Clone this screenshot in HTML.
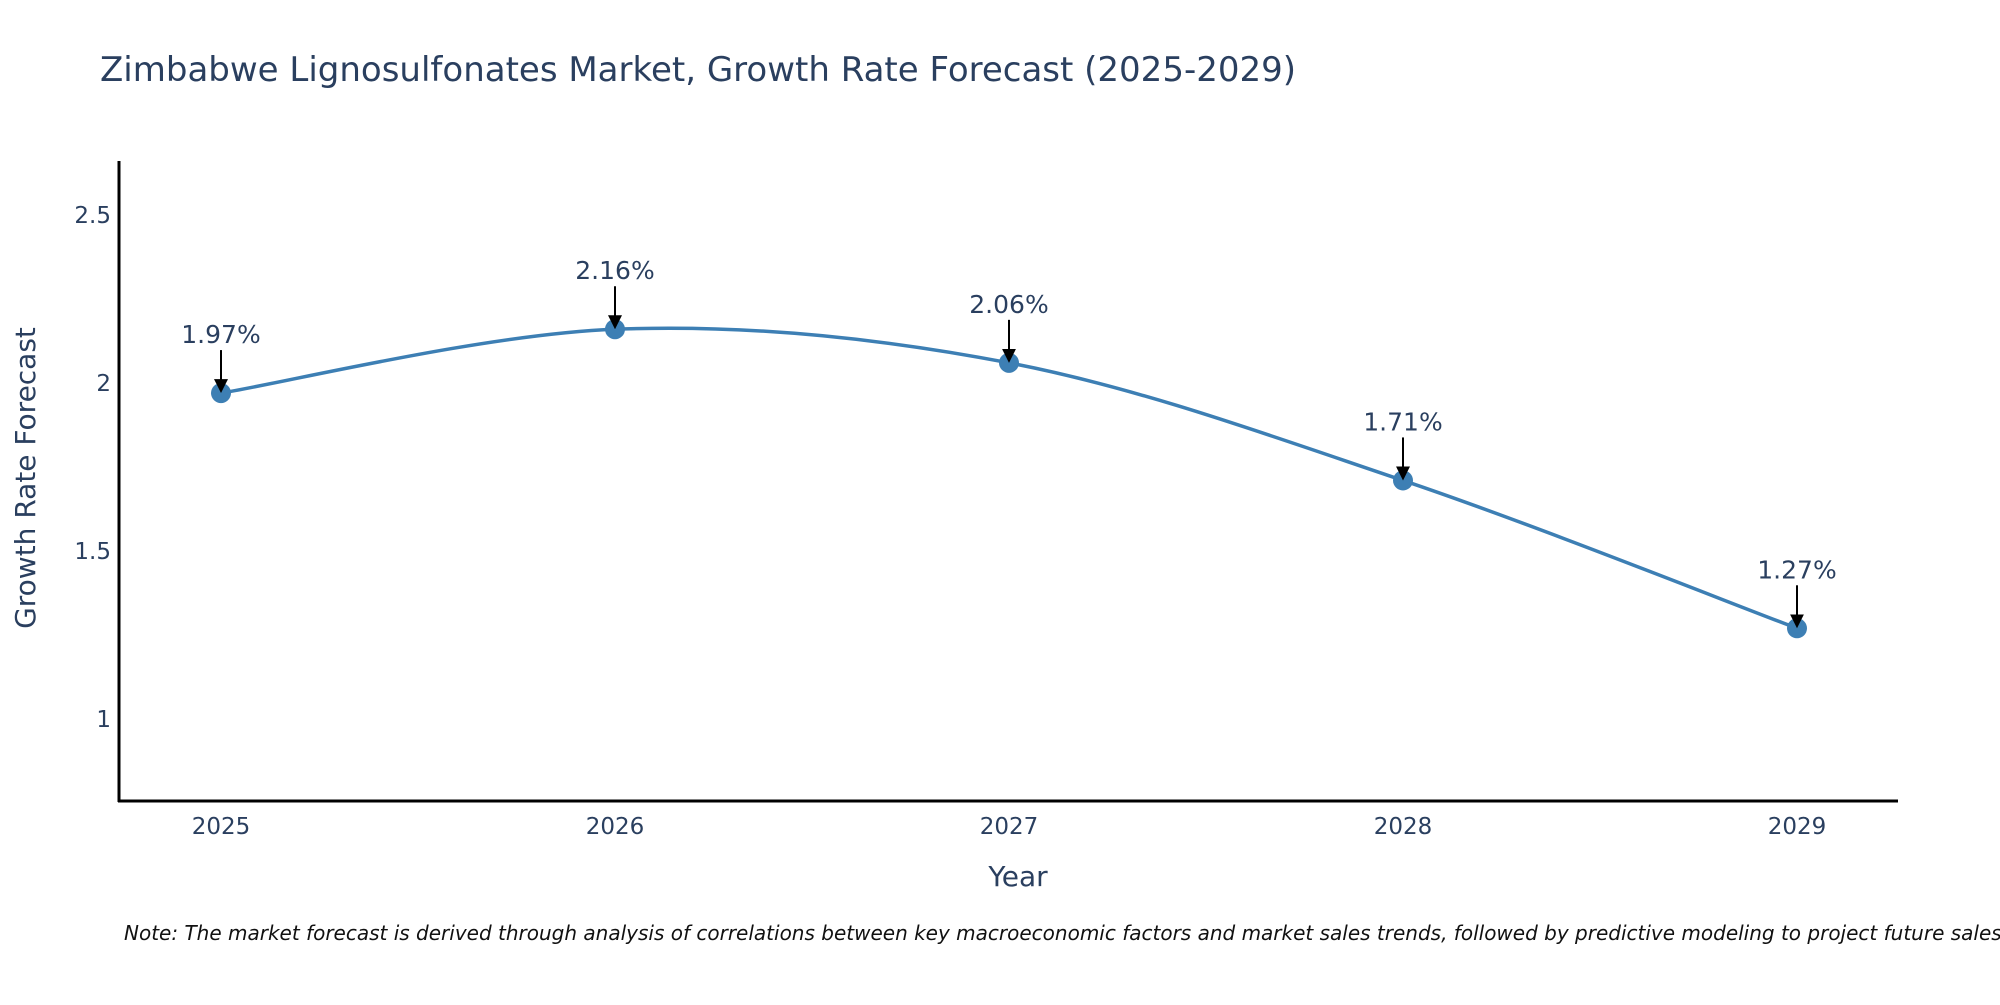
<!DOCTYPE html>
<html><head><meta charset="utf-8"><style>
body{margin:0;background:#fff}
svg text{font-family:"DejaVu Sans","Liberation Sans",sans-serif;fill:#2a3f5f}
</style></head><body>
<svg width="2000" height="1000" viewBox="0 0 2000 1000">
<defs><marker id="ah" markerWidth="14" markerHeight="14" refX="12" refY="7" orient="auto" markerUnits="userSpaceOnUse" viewBox="0 0 14 14"><path d="M0,0 L14,7 L0,14 z" fill="#000"/></marker></defs>
<text x="100" y="81" font-size="34">Zimbabwe Lignosulfonates Market, Growth Rate Forecast (2025-2029)</text>
<g id="yticks"></g><g id="xticks"></g>
<line x1="119" y1="161" x2="119" y2="802" stroke="#000" stroke-width="3"/>
<line x1="118" y1="801" x2="1898" y2="801" stroke="#000" stroke-width="3"/>
<path id="line" fill="none" stroke="#3d7fb4" stroke-width="3.5"/>
<g id="pts"></g>
<text x="1018" y="886" font-size="28" text-anchor="middle">Year</text>
<text transform="translate(35,478) rotate(-90)" font-size="28" text-anchor="middle">Growth Rate Forecast</text>
<text x="124" y="940" font-size="20" font-style="italic" style="fill:#111">Note: The market forecast is derived through analysis of correlations between key macroeconomic factors and market sales trends, followed by predictive modeling to project future sales.</text>
</svg>
<script>
const years=[2025,2026,2027,2028,2029];
const values=[1.97,2.16,2.06,1.71,1.27];
const labels=["1.97%","2.16%","2.06%","1.71%","1.27%"];
const yTicks=[1,1.5,2,2.5];
const yTickLabels=["1","1.5","2","2.5"];
const NS="http://www.w3.org/2000/svg";
const xs=v=>221+(v-2025)*394;
const ys=v=>383-(v-2)*336;
function mk(t,a,p){const e=document.createElementNS(NS,t);for(const k in a)e.setAttribute(k,a[k]);p.appendChild(e);return e;}
const yt=document.getElementById('yticks');
yTicks.forEach((v,i)=>{const t=mk('text',{x:111,y:ys(v)+8,'font-size':23,'text-anchor':'end'},yt);


t.textContent=yTickLabels[i];});
const xt=document.getElementById('xticks');
years.forEach(v=>{const t=mk('text',{x:xs(v),y:834,'font-size':23,'text-anchor':'middle'},xt);


t.textContent=v;});
const P=years.map((y,i)=>[xs(y),ys(values[i])]);
let d=`M${P[0][0]},${P[0][1]}`;const s=0.5/3*2;
for(let i=0;i<P.length-1;i++){const p0=P[i-1]||P[i],p1=P[i],p2=P[i+1],p3=P[i+2]||p2;
const c1=[p1[0]+(p2[0]-p0[0])*s/2,p1[1]+(p2[1]-p0[1])*s/2],c2=[p2[0]-(p3[0]-p1[0])*s/2,p2[1]-(p3[1]-p1[1])*s/2];
d+=` C${c1[0]},${c1[1]} ${c2[0]},${c2[1]} ${p2[0]},${p2[1]}`;}
document.getElementById('line').setAttribute('d',d);
const g=document.getElementById('pts');
P.forEach((p,i)=>{const c=mk('circle',{cx:p[0],cy:p[1],r:10,fill:'#3d7fb4'},g);


const a=mk('line',{x1:p[0],y1:p[1]-43,x2:p[0],y2:p[1]-2,stroke:'#000','stroke-width':2,'marker-end':'url(#ah)'},g);


const t=mk('text',{x:p[0],y:p[1]-50,'font-size':25,'text-anchor':'middle'},g);


t.textContent=labels[i];});
</script>
</body></html>
